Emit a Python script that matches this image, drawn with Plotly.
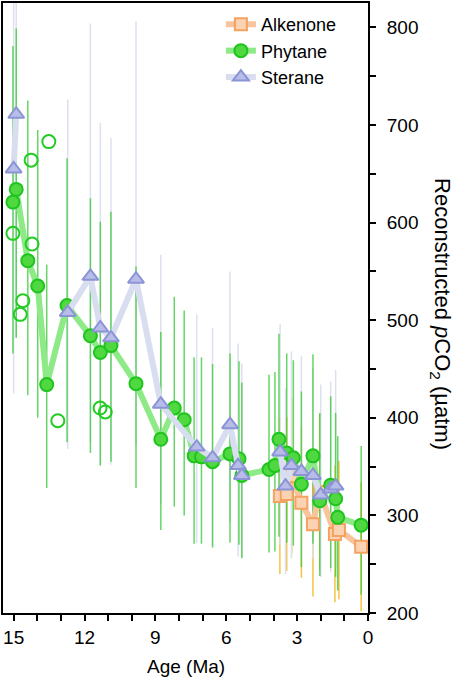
import plotly.graph_objects as go

# phytane (filled circles, connected)
age_phy = [15.03, 14.89, 14.40, 13.98, 13.60, 12.74, 11.75, 11.33, 10.88, 9.82,
           8.77, 8.20, 7.78, 7.36, 7.05, 6.58, 5.84, 5.46, 5.34, 4.19,
           3.94, 3.77, 3.44, 3.16, 2.82, 2.33, 2.04, 1.58, 1.37, 1.28, 0.29]
co2_phy = [621, 634, 561, 535, 434, 515, 484, 467, 474, 435,
           378, 410, 398, 361, 360, 355, 363, 358, 341, 347,
           351, 378, 364, 359, 332, 361, 315, 331, 317, 298, 290]
err_phy_up = [160, 165, 164, 160, 123, 151, 141, 134, 137, 120,
              110, 114, 112, 101, 102, 100, 103, 100, 95, 97,
              96, 108, 102, 100, 95, 104, 90, 91, 88, 83, 81]
err_phy_dn = [155, 152, 138, 135, 106, 140, 120, 116, 119, 107,
              93, 101, 98, 90, 89, 88, 91, 88, 85, 85,
              88, 100, 92, 90, 85, 90, 77, 85, 80, 75, 71]

# phytane single samples (open circles)
age_open = [15.03, 14.26, 13.51, 14.22, 14.61, 14.72, 13.13, 11.34, 11.12]
co2_open = [589, 664, 683, 578, 520, 506, 397, 410, 406]

# sterane (None = break in the line)
age_ste = [15.00, 14.89, None, 12.71, 11.75, 11.33, 10.88, 9.82, 8.77, 7.25,
           6.58, 5.84, 5.50, 5.34, None, 3.72, 3.49, 3.24, 2.82, 2.33,
           2.00, 1.58, 1.37]
co2_ste = [655, 711, None, 508, 545, 492, 482, 542, 414, 370,
           359, 393, 351, 341, None, 365, 330, 351, 345, 341,
           321, 327, 330]
err_ste_up = [250, 250, 0, 218, 259, 210, 205, 264, 153, 136,
              133, 157, 125, 115, 0, 131, 100, 117, 118, 110,
              113, 110, 119]
err_ste_dn = [230, 229, 0, 140, 170, 140, 130, 170, 102, 98,
              90, 100, 93, 84, 0, 95, 90, 95, 90, 85,
              84, 85, 85]

# alkenone
age_alk = [3.73, 3.44, 3.23, 2.82, 2.33, 2.04, 1.40, 1.23, 0.29]
co2_alk = [320, 322, 340, 313, 291, 324, 281, 285, 268]
err_alk = [80, 79, 80, 77, 74, 80, 70, 71, 66]

FONT = "Liberation Sans, Arial, sans-serif"
clear = dict(size=1, color="rgba(0,0,0,0)")

fig = go.Figure()

# error bars first so they sit under every line and marker
fig.add_trace(go.Scatter(
    x=age_alk, y=co2_alk, mode="markers", marker=clear, showlegend=False,
    hoverinfo="skip",
    error_y=dict(type="data", array=err_alk, color="#f5c343", thickness=1.5, width=0)))
fig.add_trace(go.Scatter(
    x=age_ste, y=co2_ste, mode="markers", marker=clear, showlegend=False,
    hoverinfo="skip",
    error_y=dict(type="data", array=err_ste_up, arrayminus=err_ste_dn,
                 color="#dde0ef", thickness=1.5, width=0)))
fig.add_trace(go.Scatter(
    x=age_phy, y=co2_phy, mode="markers", marker=clear, showlegend=False,
    hoverinfo="skip",
    error_y=dict(type="data", array=err_phy_up, arrayminus=err_phy_dn,
                 color="rgba(50,200,50,0.75)", thickness=1.5, width=0)))

fig.add_trace(go.Scatter(
    x=age_alk, y=co2_alk, mode="lines+markers", name="Alkenone",
    line=dict(color="#f9c49c", width=6),
    marker=dict(symbol="square", size=12, color="#fbd2b2",
                line=dict(color="#f4a262", width=2))))
fig.add_trace(go.Scatter(
    x=age_phy, y=co2_phy, mode="lines+markers", name="Phytane",
    line=dict(color="#8eea86", width=6),
    marker=dict(symbol="circle", size=13, color="#4fd83f",
                line=dict(color="#1fc41f", width=2))))
fig.add_trace(go.Scatter(
    x=age_open, y=co2_open, mode="markers", showlegend=False,
    marker=dict(symbol="circle-open", size=13, color="#22cc22",
                line=dict(color="#22cc22", width=2))))
fig.add_trace(go.Scatter(
    x=age_ste, y=co2_ste, mode="lines+markers", name="Sterane",
    line=dict(color="#d9ddf0", width=6),
    marker=dict(symbol="triangle-up", size=14, color="#b7bde8",
                line=dict(color="#8b94d4", width=2))))

# right-hand title, reading top to bottom
fig.add_annotation(
    text="Reconstructed <i>p</i>CO<sub>2</sub> (µatm)",
    xref="paper", yref="paper", x=1.2, y=0.49, xanchor="center", yanchor="middle",
    textangle=90, showarrow=False,
    font=dict(size=22, color="black", family=FONT))

# x title placed by hand so it stays inside the page
fig.add_annotation(
    text="Age (Ma)", xref="paper", yref="paper", x=0.5, y=-0.088,
    xanchor="center", yanchor="middle", showarrow=False,
    font=dict(size=19, color="black", family=FONT))

fig.update_layout(
    width=454, height=680,
    margin=dict(l=2, r=86, t=1, b=67),
    plot_bgcolor="white", paper_bgcolor="white",
    font=dict(family=FONT, size=19, color="black"),
    showlegend=True,
    legend=dict(x=0.597, y=0.995, xanchor="left", yanchor="top",
                bgcolor="rgba(0,0,0,0)", font=dict(size=18),
                itemwidth=30, tracegroupgap=0),
    xaxis=dict(
        range=[15.45, 0], tickvals=[15, 12, 9, 6, 3, 0],
        ticks="outside", ticklen=6, tickwidth=1.5, tickcolor="black",
        minor=dict(dtick=1, tick0=0, ticks="outside", ticklen=6,
                   tickwidth=1.5, tickcolor="black"),
        showline=True, linecolor="black", linewidth=2, mirror=True,
        showgrid=False, zeroline=False),
    yaxis=dict(
        side="right", range=[200, 825],
        tickvals=[200, 300, 400, 500, 600, 700, 800],
        ticks="outside", ticklen=6, tickwidth=1.5, tickcolor="black",
        ticklabelstandoff=7,
        minor=dict(dtick=50, tick0=0, ticks="outside", ticklen=6,
                   tickwidth=1.5, tickcolor="black"),
        showline=True, linecolor="black", linewidth=2, mirror=True,
        showgrid=False, zeroline=False),
)

# the page's default body margin would push the figure 8px off its spot
fig.write_html("out.html", config={"displayModeBar": False},
               post_script="document.body.style.margin='0';document.body.style.padding='0';")
